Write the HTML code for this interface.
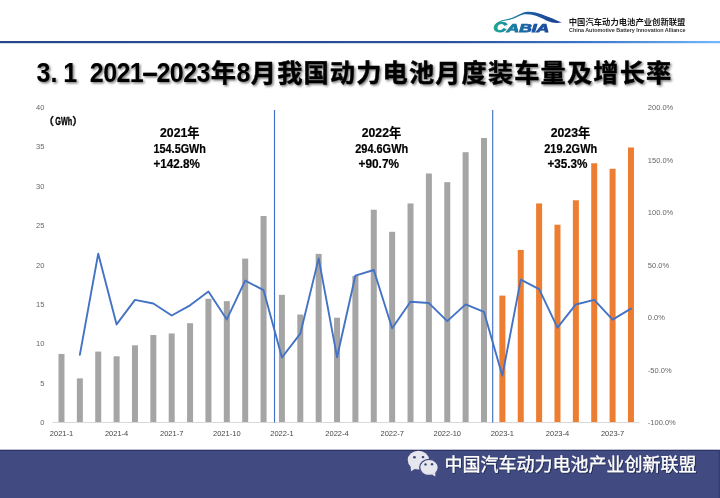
<!DOCTYPE html>
<html lang="zh-CN"><head><meta charset="utf-8"><title>3.1 2021-2023年8月我国动力电池月度装车量及增长率</title>
<style>
html,body{margin:0;padding:0;background:#fff;}
body{width:720px;height:498px;overflow:hidden;position:relative;font-family:"Liberation Sans","Noto Sans CJK SC",sans-serif;}
svg{position:absolute;left:0;top:0;display:block}
.ax{font-family:"Liberation Sans",sans-serif;font-size:7.5px;fill:#666}
.xl{font-family:"Liberation Sans",sans-serif;font-size:7.5px;fill:#454545}
.ttl{font-family:"Liberation Sans","Noto Sans CJK SC",sans-serif;font-weight:700;font-size:25.2px;fill:#000;stroke:#000;stroke-width:0.4px}
.ttld{font-family:"Liberation Sans",sans-serif;font-weight:bold;font-size:27.8px;fill:#000}
.ann{font-family:"Liberation Sans","Noto Sans CJK SC",sans-serif;font-weight:bold;font-size:12.8px;fill:#000;stroke:#000;stroke-width:0.2px}
.unit{font-family:"Liberation Sans","Noto Sans CJK SC",sans-serif;font-weight:bold;font-size:10.5px;fill:#000;stroke:#000;stroke-width:0.3px}
.ft{font-family:"Liberation Sans","Noto Sans CJK SC",sans-serif;font-size:18px;font-weight:400;fill:#fff;stroke:#fff;stroke-width:0.25px}
.lg1{font-family:"Liberation Sans","Noto Sans CJK SC",sans-serif;font-weight:bold;font-size:8.5px;fill:#1a1a1a}
.lg2{font-family:"Liberation Sans",sans-serif;font-weight:bold;font-size:4.7px;fill:#333}
.cab{font-family:"Liberation Sans",sans-serif;font-weight:bold;font-style:italic;font-size:10px}
</style></head><body>
<svg width="720" height="498" viewBox="0 0 720 498">
<defs>
<linearGradient id="hl" x1="0" x2="1" y1="0" y2="0"><stop offset="0" stop-color="#27478a"/><stop offset="0.62" stop-color="#2a509a"/><stop offset="0.8" stop-color="#3a72c4"/><stop offset="0.92" stop-color="#5a9ae6"/><stop offset="1" stop-color="#74b8ff"/></linearGradient>
<linearGradient id="lg" gradientUnits="userSpaceOnUse" x1="493" x2="562" y1="0" y2="0"><stop offset="0" stop-color="#1fa890"/><stop offset="0.22" stop-color="#1b86a2"/><stop offset="0.5" stop-color="#1b5ea6"/><stop offset="1" stop-color="#1d3f93"/></linearGradient>
<filter id="sh" x="-5%" y="-20%" width="110%" height="150%"><feDropShadow dx="1.4" dy="1.4" stdDeviation="0.9" flood-color="#000" flood-opacity="0.55"/></filter>
<filter id="sh2" x="-2%" y="-20%" width="104%" height="150%"><feDropShadow dx="0.9" dy="0.9" stdDeviation="0.45" flood-color="#151a40" flood-opacity="0.75"/></filter>
</defs>
<rect x="0" y="0" width="720" height="498" fill="#fff"/>
<rect x="0" y="41" width="720" height="2.2" fill="url(#hl)"/>
<!-- logo -->
<g id="logo">
<path d="M496.3,23.2 C499,20.8 503,19.9 507,19.2 C511,18.5 514,17.2 517,15.5 C520.5,13.5 524,11.8 528,11.7 C533,11.6 538,13 542.2,14.5 C549,17 555,19.6 561.8,22.5 C558,23.2 555,23.1 552,22.5 C549,21.8 547,20.9 544.5,19.6 C541,17.8 538,16.4 535,15.5 C531.5,14.5 528,14 524.5,14.3 C521.5,14.8 519,16.3 516,17.6 C513,19 510.5,19.8 507.5,20.3 C503.5,21 499.5,21.9 496.6,24.3 Z" fill="url(#lg)"/>
<text class="cab" y="31.9" fill="url(#lg)" stroke="url(#lg)" stroke-width="0.75"><tspan style="font-size:13.8px" x="493.2" textLength="13.6" lengthAdjust="spacingAndGlyphs">C</tspan><tspan x="506.6" textLength="42.6" lengthAdjust="spacingAndGlyphs">ABIA</tspan></text>
<text class="lg1" x="568.8" y="25.4" textLength="116.6" lengthAdjust="spacingAndGlyphs">中国汽车动力电池产业创新联盟</text>
<text class="lg2" x="569" y="32.1" textLength="116.4" lengthAdjust="spacingAndGlyphs">China Automotive Battery Innovation Alliance</text>
</g>
<!-- title -->
<g filter="url(#sh)">
<text class="ttld" transform="scale(0.9 1)" text-anchor="middle" y="82.3" x="48.30 59.85 77.92 92.74 107.55 122.37 137.18 152.00">3.1 2021</text><text class="ttld" transform="scale(1.95 1)" text-anchor="middle" y="81.6" x="76.99">-</text><text class="ttld" transform="scale(0.9 1)" text-anchor="middle" y="82.3" x="181.63 196.44 211.25 226.07">2023</text>
<text class="ttl" x="210.8" y="82.2">年</text>
<text class="ttld" transform="scale(0.9 1)" text-anchor="middle" y="82.3" x="270.52">8</text>
<text class="ttl" x="250.8" y="82.2" textLength="420.4" lengthAdjust="spacing">月我国动力电池月度装车量及增长率</text>
</g>
<!-- chart -->
<rect x="58.48" y="353.94" width="6.0" height="68.56" fill="#a5a5a5"/>
<rect x="76.85" y="378.37" width="6.0" height="44.13" fill="#a5a5a5"/>
<rect x="95.22" y="351.58" width="6.0" height="70.92" fill="#a5a5a5"/>
<rect x="113.59" y="356.31" width="6.0" height="66.19" fill="#a5a5a5"/>
<rect x="131.97" y="345.28" width="6.0" height="77.22" fill="#a5a5a5"/>
<rect x="150.34" y="335.03" width="6.0" height="87.47" fill="#a5a5a5"/>
<rect x="168.70" y="333.46" width="6.0" height="89.04" fill="#a5a5a5"/>
<rect x="187.07" y="323.21" width="6.0" height="99.29" fill="#a5a5a5"/>
<rect x="205.44" y="298.78" width="6.0" height="123.72" fill="#a5a5a5"/>
<rect x="223.81" y="301.15" width="6.0" height="121.35" fill="#a5a5a5"/>
<rect x="242.19" y="258.60" width="6.0" height="163.90" fill="#a5a5a5"/>
<rect x="260.56" y="216.04" width="6.0" height="206.46" fill="#a5a5a5"/>
<rect x="278.93" y="294.84" width="6.0" height="127.66" fill="#a5a5a5"/>
<rect x="297.30" y="314.54" width="6.0" height="107.96" fill="#a5a5a5"/>
<rect x="315.67" y="253.87" width="6.0" height="168.63" fill="#a5a5a5"/>
<rect x="334.04" y="317.70" width="6.0" height="104.80" fill="#a5a5a5"/>
<rect x="352.41" y="275.93" width="6.0" height="146.57" fill="#a5a5a5"/>
<rect x="370.78" y="209.74" width="6.0" height="212.76" fill="#a5a5a5"/>
<rect x="389.15" y="231.80" width="6.0" height="190.70" fill="#a5a5a5"/>
<rect x="407.52" y="203.44" width="6.0" height="219.06" fill="#a5a5a5"/>
<rect x="425.89" y="173.49" width="6.0" height="249.01" fill="#a5a5a5"/>
<rect x="444.26" y="182.16" width="6.0" height="240.34" fill="#a5a5a5"/>
<rect x="462.63" y="152.22" width="6.0" height="270.28" fill="#a5a5a5"/>
<rect x="481.00" y="138.03" width="6.0" height="284.47" fill="#a5a5a5"/>
<rect x="499.37" y="295.63" width="6.0" height="126.87" fill="#ed7d31"/>
<rect x="517.74" y="249.93" width="6.0" height="172.57" fill="#ed7d31"/>
<rect x="536.11" y="203.44" width="6.0" height="219.06" fill="#ed7d31"/>
<rect x="554.48" y="224.71" width="6.0" height="197.79" fill="#ed7d31"/>
<rect x="572.85" y="200.28" width="6.0" height="222.22" fill="#ed7d31"/>
<rect x="591.22" y="163.25" width="6.0" height="259.25" fill="#ed7d31"/>
<rect x="609.59" y="168.76" width="6.0" height="253.74" fill="#ed7d31"/>
<rect x="627.96" y="147.49" width="6.0" height="275.01" fill="#ed7d31"/>
<line x1="52.5" y1="422.5" x2="639.5" y2="422.5" stroke="#d9d9d9" stroke-width="1"/>
<line x1="274.5" y1="110" x2="274.5" y2="422.5" stroke="#4170c6" stroke-width="1.15"/>
<line x1="492.7" y1="110" x2="492.7" y2="422.5" stroke="#4170c6" stroke-width="1.15"/>
<polyline points="79.85,354.87 98.22,253.64 116.59,324.44 134.97,299.92 153.34,303.50 171.70,315.54 190.07,305.35 208.44,291.58 226.81,319.44 245.19,280.59 263.56,290.16 281.93,357.54 300.30,333.65 318.67,258.38 337.04,357.20 355.41,275.56 373.78,269.98 392.15,328.33 410.52,301.80 428.89,303.07 447.26,321.09 465.63,304.34 484.00,311.92 502.37,375.64 520.74,279.58 539.11,289.13 557.48,327.64 575.85,304.46 594.22,299.92 612.59,319.67 630.96,308.62" fill="none" stroke="#4472c4" stroke-width="1.9" stroke-linejoin="round" stroke-linecap="round"/>
<text class="ax" x="44.4" y="425.20" text-anchor="end">0</text>
<text class="ax" x="44.4" y="385.80" text-anchor="end">5</text>
<text class="ax" x="44.4" y="346.40" text-anchor="end">10</text>
<text class="ax" x="44.4" y="307.00" text-anchor="end">15</text>
<text class="ax" x="44.4" y="267.60" text-anchor="end">20</text>
<text class="ax" x="44.4" y="228.20" text-anchor="end">25</text>
<text class="ax" x="44.4" y="188.80" text-anchor="end">30</text>
<text class="ax" x="44.4" y="149.40" text-anchor="end">35</text>
<text class="ax" x="44.4" y="110.00" text-anchor="end">40</text>
<text class="ax" x="647.8" y="425.20">-100.0%</text>
<text class="ax" x="647.8" y="372.67">-50.0%</text>
<text class="ax" x="647.8" y="320.13">0.0%</text>
<text class="ax" x="647.8" y="267.60">50.0%</text>
<text class="ax" x="647.8" y="215.07">100.0%</text>
<text class="ax" x="647.8" y="162.53">150.0%</text>
<text class="ax" x="647.8" y="110.00">200.0%</text>
<text class="xl" x="61.48" y="436.2" text-anchor="middle">2021-1</text>
<text class="xl" x="116.59" y="436.2" text-anchor="middle">2021-4</text>
<text class="xl" x="171.70" y="436.2" text-anchor="middle">2021-7</text>
<text class="xl" x="226.81" y="436.2" text-anchor="middle">2021-10</text>
<text class="xl" x="281.93" y="436.2" text-anchor="middle">2022-1</text>
<text class="xl" x="337.04" y="436.2" text-anchor="middle">2022-4</text>
<text class="xl" x="392.15" y="436.2" text-anchor="middle">2022-7</text>
<text class="xl" x="447.26" y="436.2" text-anchor="middle">2022-10</text>
<text class="xl" x="502.37" y="436.2" text-anchor="middle">2023-1</text>
<text class="xl" x="557.48" y="436.2" text-anchor="middle">2023-4</text>
<text class="xl" x="612.59" y="436.2" text-anchor="middle">2023-7</text>
<text class="unit" y="125.3"><tspan x="43.5">（</tspan><tspan x="55.3" textLength="17" lengthAdjust="spacingAndGlyphs">GWh</tspan><tspan x="72.3">）</tspan></text>
<text class="ann" x="160" y="137" textLength="39.5" lengthAdjust="spacingAndGlyphs">2021年</text>
<text class="ann" x="153.5" y="153" textLength="52.5" lengthAdjust="spacingAndGlyphs">154.5GWh</text>
<text class="ann" x="153.5" y="168" textLength="46.5" lengthAdjust="spacingAndGlyphs">+142.8%</text>
<text class="ann" x="361.7" y="137" textLength="39.5" lengthAdjust="spacingAndGlyphs">2022年</text>
<text class="ann" x="355.2" y="153" textLength="53" lengthAdjust="spacingAndGlyphs">294.6GWh</text>
<text class="ann" x="358.5" y="168" textLength="40.5" lengthAdjust="spacingAndGlyphs">+90.7%</text>
<text class="ann" x="550.7" y="137" textLength="39.5" lengthAdjust="spacingAndGlyphs">2023年</text>
<text class="ann" x="544.2" y="153" textLength="53" lengthAdjust="spacingAndGlyphs">219.2GWh</text>
<text class="ann" x="547.5" y="168" textLength="40" lengthAdjust="spacingAndGlyphs">+35.3%</text>
<!-- footer -->
<rect x="0" y="450.5" width="720" height="47.5" fill="#424b81"/>
<rect x="0" y="449.7" width="720" height="1.3" fill="#2c3367"/>
<rect x="718.8" y="450" width="1.2" height="48" fill="#343b6e"/>
<g id="wechat" fill="#e6e6ee">
<ellipse cx="418.4" cy="460.1" rx="10.7" ry="9.3"/>
<path d="M410.600,466 L411,471.200 L415.500,468.600 Z"/>
<ellipse cx="429" cy="467.4" rx="9.3" ry="8.1" stroke="#424b81" stroke-width="1.3"/>
<path d="M432,474.400 L435.200,476.400 L435.400,472.500 Z"/>
</g>
<ellipse cx="414.4" cy="457.2" rx="1.35" ry="1.2" fill="#3a4379"/><ellipse cx="423" cy="457.1" rx="1.35" ry="1.2" fill="#3a4379"/>
<ellipse cx="425.5" cy="464.4" rx="1.2" ry="1.2" fill="#3a4379"/><ellipse cx="432" cy="464.3" rx="1.2" ry="1.2" fill="#3a4379"/>
<text class="ft" filter="url(#sh2)" x="444.6" y="470.9" textLength="252" lengthAdjust="spacing">中国汽车动力电池产业创新联盟</text>
</svg>
</body></html>
